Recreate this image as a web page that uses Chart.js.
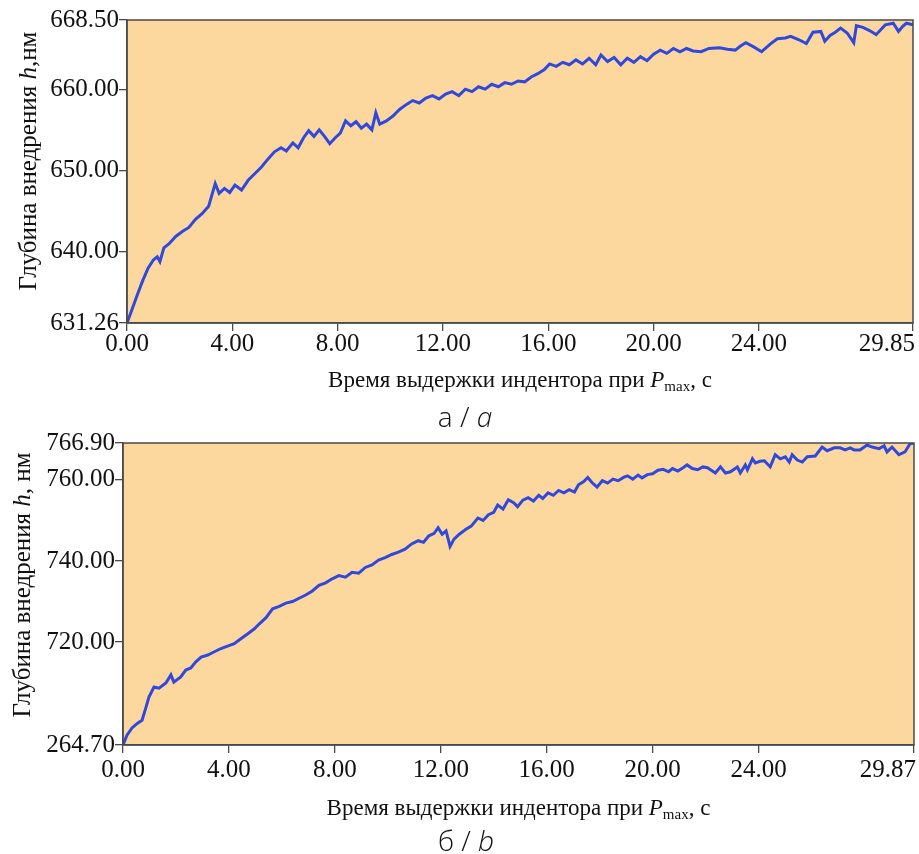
<!DOCTYPE html>
<html>
<head>
<meta charset="utf-8">
<script src="https://cdn.jsdelivr.net/npm/chart.js@4/dist/chart.umd.min.js"></script>
<style>
  body { margin: 0; background: #fff; }
  .panel { position: absolute; left: 0; width: 919px; height: 427px; }
</style>
</head>
<body>
<div class="panel" style="top:0"><canvas id="chartA" width="919" height="427"></canvas></div>
<div class="panel" style="top:427px"><canvas id="chartB" width="919" height="427"></canvas></div>
<script>
// panel a: hold time (s) and indentation depth (nm)
var timeA = [0.00, 0.20, 0.40, 0.60, 0.80, 1.00, 1.15, 1.25, 1.40, 1.60, 1.85, 2.10, 2.35, 2.60, 2.85,
  3.10, 3.35, 3.50, 3.70, 3.90, 4.10, 4.35, 4.60, 4.85, 5.10, 5.35, 5.60, 5.85, 6.05, 6.30, 6.50,
  6.70, 6.90, 7.10, 7.30, 7.50, 7.70, 7.90, 8.10, 8.30, 8.50, 8.70, 8.90, 9.10, 9.30, 9.45, 9.60,
  9.85, 10.10, 10.35, 10.60, 10.85, 11.10, 11.35, 11.60, 11.85, 12.10, 12.35, 12.60, 12.85, 13.10,
  13.35, 13.60, 13.85, 14.10, 14.35, 14.60, 14.85, 15.10, 15.35, 15.60, 15.85, 16.05, 16.30, 16.55,
  16.80, 17.05, 17.30, 17.55, 17.80, 18.00, 18.25, 18.50, 18.75, 19.00, 19.25, 19.50, 19.75, 20.00,
  20.25, 20.50, 20.75, 21.00, 21.25, 21.50, 21.80, 22.10, 22.50, 22.80, 23.10, 23.30, 23.50, 23.80,
  24.10, 24.45, 24.70, 25.00, 25.20, 25.50, 25.80, 26.05, 26.35, 26.50, 26.70, 26.90, 27.10, 27.35,
  27.60, 27.70, 27.95, 28.20, 28.45, 28.65, 28.80, 29.10, 29.30, 29.45, 29.60, 29.85];
var depthA = [631.26, 633.0, 634.8, 636.5, 638.0, 639.0, 639.4, 638.8, 640.5, 641.0, 641.9, 642.5, 643.0, 644.0, 644.7,
  645.6, 648.4, 647.2, 647.8, 647.3, 648.2, 647.6, 648.8, 649.6, 650.4, 651.4, 652.3, 652.8, 652.4, 653.4, 652.8,
  654.0, 654.9, 654.2, 655.0, 654.2, 653.3, 654.0, 654.6, 656.1, 655.5, 656.0, 655.2, 655.7, 655.0, 657.1, 655.7,
  656.1, 656.7, 657.5, 658.1, 658.6, 658.3, 658.9, 659.2, 658.8, 659.4, 659.7, 659.2, 660.0, 659.7,
  660.3, 660.0, 660.6, 660.3, 660.8, 660.6, 661.0, 660.9, 661.5, 661.9, 662.4, 663.1, 662.8, 663.3,
  663.0, 663.6, 663.1, 663.8, 663.0, 664.2, 663.4, 663.9, 663.0, 663.8, 663.3, 664.0, 663.5, 664.3,
  664.8, 664.4, 665.0, 664.6, 665.0, 664.7, 664.6, 665.0, 665.1, 664.9, 664.8, 665.3, 665.7, 665.2,
  664.6, 665.6, 666.2, 666.3, 666.5, 666.1, 665.6, 667.0, 667.1, 665.9, 666.6, 667.0, 667.5, 666.9,
  665.7, 667.8, 667.6, 667.2, 666.7, 667.4, 667.9, 668.1, 667.1, 667.7, 668.1, 667.9];
var xTicksA = [0, 4, 8, 12, 16, 20, 24, 29.85];
var xLabelsA = ['0.00', '4.00', '8.00', '12.00', '16.00', '20.00', '24.00', '29.85'];
var yTicksA = [631.26, 640, 650, 660, 668.5];
var yLabelsA = ['631.26', '640.00', '650.00', '660.00', '668.50'];

// panel b
var timeB = [0.00, 0.15, 0.34, 0.55, 0.72, 0.85, 0.98, 1.17, 1.36, 1.62, 1.81, 1.92, 2.18, 2.37, 2.56,
  2.75, 2.95, 3.20, 3.45, 3.70, 3.95, 4.20, 4.45, 4.70, 4.95, 5.15, 5.40, 5.65, 5.90, 6.15, 6.40,
  6.65, 6.90, 7.15, 7.40, 7.65, 7.90, 8.15, 8.40, 8.65, 8.90, 9.15, 9.40, 9.65, 9.90, 10.15, 10.40,
  10.65, 10.90, 11.15, 11.35, 11.55, 11.75, 11.90, 12.05, 12.20, 12.35, 12.50, 12.70, 12.95, 13.15,
  13.40, 13.60, 13.80, 14.00, 14.15, 14.35, 14.55, 14.75, 14.90, 15.10, 15.30, 15.50, 15.70, 15.85,
  16.05, 16.25, 16.45, 16.65, 16.85, 17.05, 17.20, 17.40, 17.55, 17.70, 17.90, 18.10, 18.30, 18.50,
  18.70, 18.90, 19.05, 19.25, 19.45, 19.60, 19.80, 20.00, 20.20, 20.40, 20.60, 20.75, 20.95, 21.15,
  21.30, 21.50, 21.70, 21.90, 22.07, 22.37, 22.56, 22.75, 22.94, 23.20, 23.31, 23.50, 23.58, 23.77,
  23.88, 24.05, 24.22, 24.44, 24.63, 24.82, 25.01, 25.16, 25.27, 25.46, 25.65, 25.84, 26.14, 26.40,
  26.59, 26.86, 27.08, 27.27, 27.46, 27.61, 27.83, 28.10, 28.29, 28.55, 28.74, 28.85, 29.04, 29.30,
  29.53, 29.72, 29.87];
var depthB = [694.6, 697.0, 698.8, 700.0, 700.7, 703.5, 706.4, 708.9, 708.6, 709.9, 711.9, 710.1, 711.4, 713.1, 713.6,
  715.1, 716.3, 716.8, 717.6, 718.4, 719.0, 719.6, 720.8, 722.0, 723.2, 724.5, 726.0, 728.2, 728.8, 729.6, 730.0,
  730.8, 731.6, 732.6, 734.0, 734.6, 735.6, 736.4, 736.0, 737.2, 737.0, 738.4, 739.0, 740.2, 740.8, 741.6, 742.2,
  742.9, 744.2, 745.0, 744.6, 746.2, 746.8, 748.2, 746.6, 747.4, 743.6, 745.4, 746.6, 747.8, 748.6,
  750.6, 750.0, 751.4, 752.0, 753.8, 752.8, 755.1, 754.4, 753.4, 755.0, 755.6, 754.8, 756.2, 755.4,
  756.8, 756.2, 757.4, 756.8, 757.6, 757.0, 758.8, 759.6, 760.6, 759.4, 758.2, 759.8, 759.2, 760.2,
  759.8, 760.6, 761.0, 760.2, 761.2, 760.5, 761.3, 761.5, 762.4, 762.6, 762.0, 762.8, 762.2, 763.0,
  763.7, 762.8, 762.5, 763.2, 763.0, 761.7, 763.2, 761.7, 762.0, 763.2, 761.7, 763.7, 762.5, 765.2,
  764.2, 764.6, 764.7, 763.2, 766.2, 765.2, 765.7, 764.4, 766.2, 764.9, 764.4, 765.7, 765.9, 768.1,
  767.2, 767.9, 767.9, 767.4, 767.9, 767.4, 767.4, 768.6, 768.1, 767.7, 768.4, 766.9, 768.1, 766.2,
  766.9, 768.9, 769.1];
var xTicksB = [0, 4, 8, 12, 16, 20, 24, 29.87];
var xLabelsB = ['0.00', '4.00', '8.00', '12.00', '16.00', '20.00', '24.00', '29.87'];
var yTicksB = [694.6, 720, 740, 760, 769.1];
var yLabelsB = ['264.70', '720.00', '740.00', '760.00', '766.90'];

var SERIF = '"Liberation Serif", "Times New Roman", serif';
var INK = '#111';
var AXIS = '#4a4a4a';

function drawRuns(ctx, runs, x, y, align) {
  var total = 0;
  runs.forEach(function(r) { ctx.font = r.font; total += ctx.measureText(r.text).width; });
  var cx = align === 'center' ? x - total / 2 : x;
  ctx.textAlign = 'left';
  ctx.textBaseline = 'alphabetic';
  runs.forEach(function(r) {
    ctx.font = r.font;
    ctx.fillText(r.text, cx, y + (r.dy || 0));
    cx += ctx.measureText(r.text).width;
  });
}

function decor(p) {
  return {
    id: 'decor',
    beforeDraw: function(chart) {
      var a = chart.chartArea, ctx = chart.ctx;
      ctx.save();
      ctx.fillStyle = '#FDD89E';
      ctx.fillRect(a.left, a.top, a.right - a.left, a.bottom - a.top);
      ctx.restore();
    },
    afterDraw: function(chart) {
      var a = chart.chartArea, ctx = chart.ctx, xs = chart.scales.x;
      ctx.save();
      ctx.strokeStyle = AXIS;
      ctx.lineWidth = 1.5;
      ctx.strokeRect(a.left, a.top, a.right - a.left, a.bottom - a.top);
      ctx.fillStyle = INK;
      // last x label sits flush with the right edge
      var last = p.xTicks.length - 1;
      ctx.font = '25px ' + SERIF;
      ctx.textAlign = 'right';
      ctx.textBaseline = 'middle';
      ctx.fillText(p.xLabels[last], xs.getPixelForValue(p.xTicks[last]) + 2, xs.top + 8 + p.xPad + 12.5);
      // axis titles and caption
      drawRuns(ctx, p.xTitle, (a.left + a.right) / 2, p.xTitleY, 'center');
      ctx.save();
      ctx.translate(p.yTitleX, p.yTitleY);
      ctx.rotate(-Math.PI / 2);
      drawRuns(ctx, p.yTitle, 0, 0, 'center');
      ctx.restore();
      drawRuns(ctx, p.caption, p.captionX, p.captionY, 'center');
      ctx.restore();
    }
  };
}

function buildChart(id, p) {
  var tickFont = { family: SERIF, size: 25, lineHeight: 1 };
  return new Chart(document.getElementById(id), {
    type: 'line',
    data: {
      datasets: [{
        data: p.time.map(function(t, i) { return { x: t, y: p.depth[i] }; }),
        borderColor: '#3148DC',
        borderWidth: 3,
        pointRadius: 0,
        tension: 0,
        fill: false
      }]
    },
    options: {
      responsive: false,
      animation: false,
      layout: { padding: { left: 0, top: p.area.top, right: 919 - p.area.right, bottom: 427 - p.area.bottom - 40 } },
      plugins: { legend: { display: false }, tooltip: { enabled: false } },
      scales: {
        x: {
          type: 'linear',
          min: 0,
          max: p.xTicks[p.xTicks.length - 1],
          afterBuildTicks: function(s) { s.ticks = p.xTicks.map(function(v) { return { value: v }; }); },
          afterFit: function(s) { s.height = 40; },
          ticks: {
            autoSkip: false, maxRotation: 0, padding: p.xPad, color: INK, font: tickFont,
            callback: function(v, i) { return i === p.xTicks.length - 1 ? '' : p.xLabels[i]; }
          },
          grid: { drawOnChartArea: false, tickLength: 8, color: AXIS, lineWidth: 1.3 },
          border: { color: AXIS, width: 1.5 }
        },
        y: {
          min: p.yTicks[0],
          max: p.yTicks[p.yTicks.length - 1],
          afterBuildTicks: function(s) { s.ticks = p.yTicks.map(function(v) { return { value: v }; }); },
          afterFit: function(s) { s.width = p.area.left; },
          ticks: {
            autoSkip: false, padding: 0, color: INK, font: tickFont,
            callback: function(v, i) { return p.yLabels[i]; }
          },
          grid: { drawOnChartArea: false, tickLength: 8, color: AXIS, lineWidth: 1.3 },
          border: { color: AXIS, width: 1.5 }
        }
      }
    },
    plugins: [decor(p)]
  });
}

var titleFont = '23px ' + SERIF;
var titleItalic = 'italic 23px ' + SERIF;
var subFont = '15px ' + SERIF;
var yFont = '25px ' + SERIF;
var yItalic = 'italic 25px ' + SERIF;
var capFont = '300 28px "Open Sans", "Noto Sans", sans-serif';
var capItalic = 'italic 300 28px "Open Sans", "Noto Sans", sans-serif';

var xTitleRuns = [
  { text: 'Время выдержки индентора при ', font: titleFont },
  { text: 'P', font: titleItalic },
  { text: 'max', font: subFont, dy: 4 },
  { text: ', с', font: titleFont }
];

buildChart('chartA', {
  time: timeA, depth: depthA, xTicks: xTicksA, xLabels: xLabelsA, yTicks: yTicksA, yLabels: yLabelsA,
  area: { left: 127, top: 20, right: 913, bottom: 323 },
  xPad: 1,
  xTitle: xTitleRuns, xTitleY: 387,
  yTitle: [
    { text: 'Глубина внедрения ', font: yFont },
    { text: 'h', font: yItalic },
    { text: ',нм', font: yFont }
  ],
  yTitleX: 36, yTitleY: 161,
  caption: [{ text: 'а / ', font: capFont }, { text: 'a', font: capItalic }],
  captionX: 465, captionY: 427
});

buildChart('chartB', {
  time: timeB, depth: depthB, xTicks: xTicksB, xLabels: xLabelsB, yTicks: yTicksB, yLabels: yLabelsB,
  area: { left: 123, top: 16, right: 916, bottom: 318 },
  xPad: 5,
  xTitle: xTitleRuns, xTitleY: 388,
  yTitle: [
    { text: 'Глубина внедрения ', font: yFont },
    { text: 'h', font: yItalic },
    { text: ', нм', font: yFont }
  ],
  yTitleX: 30, yTitleY: 158,
  caption: [{ text: 'б / ', font: capFont }, { text: 'b', font: capItalic }],
  captionX: 466, captionY: 424
});
</script>
</body>
</html>
